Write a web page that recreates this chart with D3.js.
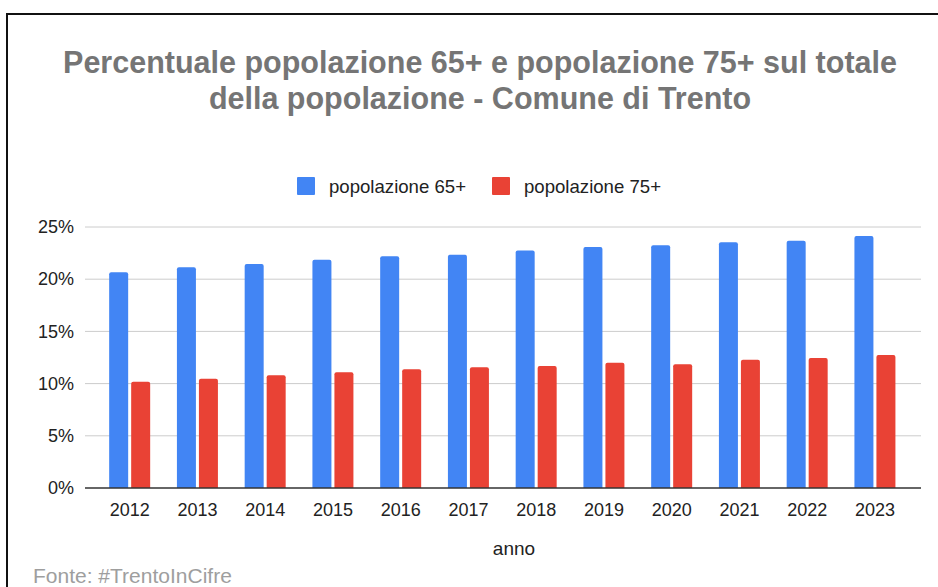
<!DOCTYPE html>
<html>
<head>
<meta charset="utf-8">
<script src="https://cdn.jsdelivr.net/npm/d3@7"></script>
<style>
  html, body { margin: 0; padding: 0; background: #fff; }
  svg { display: block; font-family: "Liberation Sans", Arial, sans-serif; }
</style>
</head>
<body>
<script>
const years = ["2012","2013","2014","2015","2016","2017","2018","2019","2020","2021","2022","2023"];
const pop65 = [20.66, 21.14, 21.46, 21.87, 22.19, 22.35, 22.76, 23.08, 23.24, 23.53, 23.69, 24.14];
const pop75 = [10.18, 10.47, 10.79, 11.08, 11.37, 11.56, 11.69, 12.00, 11.85, 12.29, 12.45, 12.74];
const seriesNames = ["popolazione 65+", "popolazione 75+"];
const seriesColors = ["#4285f4", "#e94235"];
const yTicks = [0, 5, 10, 15, 20, 25];

const W = 938, H = 587;
const svg = d3.select("body").append("svg").attr("width", W).attr("height", H);

// frame
svg.append("rect").attr("x", 7).attr("y", 14).attr("width", W + 10).attr("height", H + 10)
  .attr("fill", "#fff").attr("stroke", "#111").attr("stroke-width", 2);

// title
const title = svg.append("text").attr("text-anchor", "middle").attr("fill", "#757575")
  .attr("font-size", 30.5).attr("font-weight", "bold");
title.append("tspan").attr("x", 480).attr("y", 73).text("Percentuale popolazione 65+ e popolazione 75+ sul totale");
title.append("tspan").attr("x", 480).attr("y", 109).text("della popolazione - Comune di Trento");

// scales
const plotL = 85, plotR = 921, plotT = 227, plotB = 488;
const y = d3.scaleLinear().domain([0, 25]).range([plotB, plotT]);
const x = d3.scaleBand().domain(years).range([95.8, 908.8]).paddingInner(0).paddingOuter(0);
const barW = 19, gap = 3;

// gridlines
svg.append("g").selectAll("line").data(yTicks.filter(d => d > 0)).join("line")
  .attr("x1", plotL).attr("x2", plotR)
  .attr("y1", d => y(d)).attr("y2", d => y(d))
  .attr("stroke", "#cccccc").attr("stroke-width", 1);

// y axis labels
const yAxis = svg.append("g").attr("transform", `translate(${plotL},0)`)
  .call(d3.axisLeft(y).tickValues(yTicks).tickFormat(d => d + "%").tickSize(0).tickPadding(11));
yAxis.select(".domain").remove();
yAxis.selectAll("text").attr("font-size", 18).attr("fill", "#222")
  .attr("font-family", "Liberation Sans, Arial, sans-serif");

// bars
const rows = years.map((yr, i) => ({ yr, vals: [pop65[i], pop75[i]] }));
const groups = svg.append("g").selectAll("g").data(rows).join("g")
  .attr("transform", d => `translate(${x(d.yr) + x.bandwidth() / 2},0)`);
groups.selectAll("path").data(d => d.vals.map((v, k) => ({ v, k }))).join("path")
  .attr("fill", d => seriesColors[d.k])
  .attr("d", d => {
    const x0 = d.k === 0 ? -(barW + gap / 2) : gap / 2;
    const x1 = x0 + barW, y0 = y(d.v), y1 = y(0), r = 2;
    return `M${x0},${y1}V${y0 + r}Q${x0},${y0} ${x0 + r},${y0}H${x1 - r}Q${x1},${y0} ${x1},${y0 + r}V${y1}Z`;
  });

// baseline
svg.append("line").attr("x1", plotL).attr("x2", plotR).attr("y1", plotB).attr("y2", plotB)
  .attr("stroke", "#333").attr("stroke-width", 1.5);

// x axis labels
const xAxis = svg.append("g").attr("transform", `translate(0,${plotB})`)
  .call(d3.axisBottom(x).tickSize(0).tickPadding(14));
xAxis.select(".domain").remove();
xAxis.selectAll("text").attr("font-size", 18).attr("fill", "#222").attr("dy", 0).attr("y", 28)
  .attr("font-family", "Liberation Sans, Arial, sans-serif");

// x axis title
svg.append("text").attr("x", 514).attr("y", 555).attr("text-anchor", "middle")
  .attr("font-size", 19).attr("fill", "#222").text("anno");

// legend
const legendX = [297, 492];
seriesNames.forEach((name, k) => {
  svg.append("rect").attr("x", legendX[k]).attr("y", 177).attr("width", 18).attr("height", 18)
    .attr("rx", 1).attr("fill", seriesColors[k]);
  svg.append("text").attr("x", legendX[k] + 32).attr("y", 193).attr("font-size", 18.6)
    .attr("fill", "#222").text(name);
});

// source
svg.append("text").attr("x", 33).attr("y", 583).attr("font-size", 21).attr("fill", "#9e9e9e")
  .text("Fonte: #TrentoInCifre");
</script>
</body>
</html>
